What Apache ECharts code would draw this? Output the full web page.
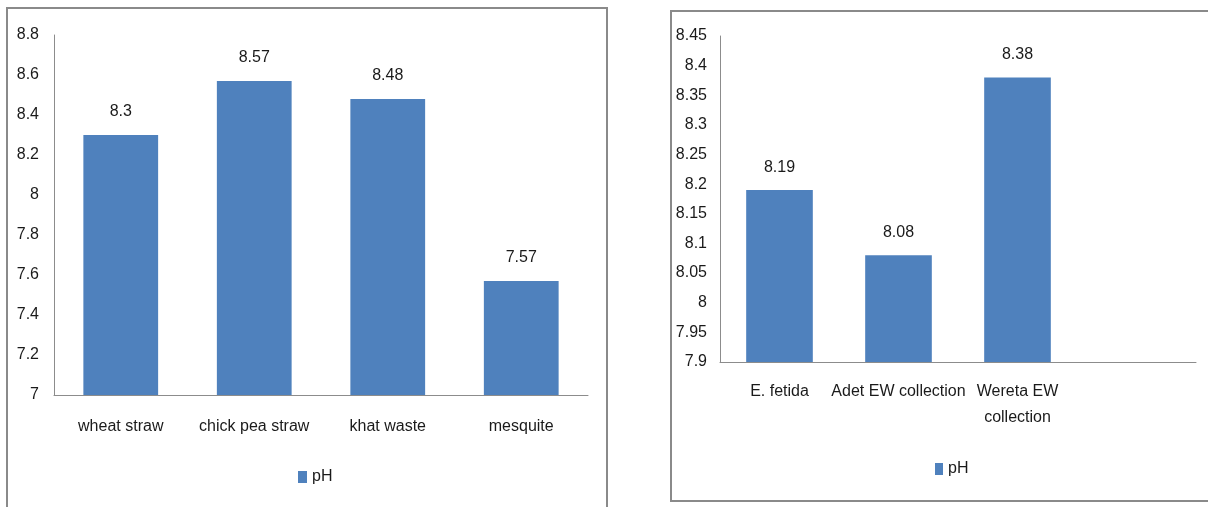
<!DOCTYPE html>
<html>
<head>
<meta charset="utf-8">
<script src="https://cdn.jsdelivr.net/npm/echarts@6/dist/echarts.min.js"></script>
<style>
  html, body { margin: 0; padding: 0; background: #fff; overflow: hidden; }
  #chart { position: absolute; left: 0; top: 0; width: 1208px; height: 507px; }
  .box { position: absolute; border: 2px solid #8a8a8a; pointer-events: none; box-sizing: border-box; }
</style>
</head>
<body>
<div id="chart"></div>
<div class="box" style="left:6px; top:7px; width:602px; height:520px;"></div>
<div class="box" style="left:670px; top:10px; width:560px; height:492px;"></div>
<script>
// ---- data ----
const leftCategories = ['wheat straw', 'chick pea straw', 'khat waste', 'mesquite'];
const leftValues = [8.3, 8.57, 8.48, 7.57];
const leftAxis = { min: 7, max: 8.8, interval: 0.2 };

const rightCategories = ['E. fetida', 'Adet EW collection', 'Wereta EW collection', ''];
const rightValues = [8.19, 8.08, 8.38, null];
const rightAxis = { min: 7.9, max: 8.45, interval: 0.05 };

const seriesName = 'pH';

// ---- style ----
const FONT = "'Liberation Sans', Arial, sans-serif";
const FS = 16;
const TXT = '#1a1a1a';
const BAR = '#4F81BD';
const AXIS = '#8c8c8c';

function wrapLabel(s) {
  if (s.length > 18) {
    const i = s.lastIndexOf(' ');
    return s.slice(0, i) + '\n' + s.slice(i + 1);
  }
  return s;
}
function fmtNum(v) { return String(+Number(v).toFixed(2)); }

function xAxisCfg(gridIndex, cats, margin) {
  return {
    type: 'category', gridIndex: gridIndex, data: cats,
    axisLine: { show: true, lineStyle: { color: AXIS, width: 1 } },
    axisTick: { show: false },
    axisLabel: { interval: 0, margin: margin, color: TXT, fontFamily: FONT, fontSize: FS, lineHeight: 26, formatter: wrapLabel },
    splitLine: { show: false }
  };
}
function yAxisCfg(gridIndex, ax, margin) {
  return {
    type: 'value', gridIndex: gridIndex, min: ax.min, max: ax.max, interval: ax.interval,
    axisLine: { show: true, lineStyle: { color: AXIS, width: 1 } },
    axisTick: { show: false },
    splitLine: { show: false },
    axisLabel: { margin: margin, color: TXT, fontFamily: FONT, fontSize: FS, formatter: fmtNum }
  };
}
function barSeries(idx, vals) {
  return {
    name: seriesName, type: 'bar', xAxisIndex: idx, yAxisIndex: idx,
    data: vals, barWidth: '56%',
    itemStyle: { color: BAR },
    label: { show: true, position: 'top', distance: 15, color: TXT, fontFamily: FONT, fontSize: FS, formatter: p => fmtNum(p.value) }
  };
}

const chart = echarts.init(document.getElementById('chart'), null, { renderer: 'canvas' });
chart.setOption({
  animation: false,
  backgroundColor: '#ffffff',
  grid: [
    { left: 54, top: 35, width: 534, height: 360 },
    { left: 720, top: 36, width: 476, height: 326 }
  ],
  legend: [
    { left: 293, top: 464, itemWidth: 9, itemHeight: 12, itemGap: 5, icon: 'rect',
      textStyle: { color: TXT, fontFamily: FONT, fontSize: FS }, data: [{ name: seriesName }] },
    { left: 930, top: 456, itemWidth: 8, itemHeight: 12, itemGap: 4, icon: 'rect',
      textStyle: { color: TXT, fontFamily: FONT, fontSize: FS }, data: [{ name: seriesName }] }
  ],
  xAxis: [ xAxisCfg(0, leftCategories, 19), xAxisCfg(1, rightCategories, 17) ],
  yAxis: [ yAxisCfg(0, leftAxis, 15), yAxisCfg(1, rightAxis, 13) ],
  series: [ barSeries(0, leftValues), barSeries(1, rightValues) ]
});
</script>
</body>
</html>
